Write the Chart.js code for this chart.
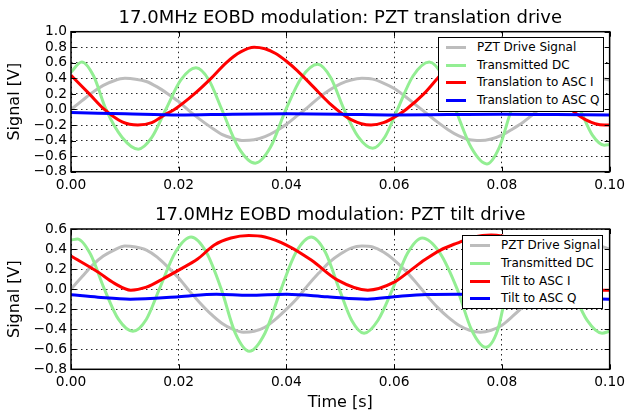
<!DOCTYPE html>
<html lang="en">
<head>
    <meta charset="UTF-8">
    <title>17.0MHz EOBD modulation</title>
    <style>
        body {
            margin: 0;
            padding: 0;
            background: #fff;
        }
        #wrap {
            position: relative;
            width: 630px;
            height: 417px;
        }
        canvas {
            position: absolute;
            left: 0;
        }
        #topChart { top: 0; }
        #bottomChart { top: 200px; }
        .legend {
            position: absolute;
            background: #fff;
            border: 1px solid #000;
            box-sizing: border-box;
            font: 12px "DejaVu Sans", sans-serif;
            color: #000;
        }
        .legend .row {
            position: absolute;
            left: 0;
            height: 17px;
            line-height: 17px;
            white-space: nowrap;
        }
        .legend .swatch {
            position: absolute;
            top: 7px;
            width: 20px;
            height: 3px;
        }
        .legend .text {
            position: absolute;
        }
    </style>
    <script src="https://cdn.jsdelivr.net/npm/chart.js"></script>
</head>
<body>
<div id="wrap">
    <canvas id="topChart" width="630" height="200"></canvas>
    <canvas id="bottomChart" width="630" height="217"></canvas>
    <div id="topLegend" class="legend" style="left:438px; top:37px; width:166px; height:75px;"></div>
    <div id="bottomLegend" class="legend" style="left:462px; top:235px; width:141px; height:74px;"></div>
</div>

<script>
    const topTitle = '17.0MHz EOBD modulation: PZT translation drive';
    const bottomTitle = '17.0MHz EOBD modulation: PZT tilt drive';
    const topLabels = ['PZT Drive Signal', 'Transmitted DC', 'Translation to ASC I', 'Translation to ASC Q'];
    const bottomLabels = ['PZT Drive Signal', 'Transmitted DC', 'Tilt to ASC I', 'Tilt to ASC Q'];
    const seriesColors = ['#bdbdbd', '#93ee93', '#ff0000', '#0000ff'];

    const xTicks = [0, 0.02, 0.04, 0.06, 0.08, 0.10];
    const topYTicks = [-0.8, -0.6, -0.4, -0.2, 0, 0.2, 0.4, 0.6, 0.8, 1.0];
    const bottomYTicks = [-0.8, -0.6, -0.4, -0.2, 0, 0.2, 0.4, 0.6];

    // PZT drive, sampled every 2 ms
    const tDrive = [0, 0.002, 0.004, 0.006, 0.008, 0.010, 0.012, 0.014, 0.016, 0.018,
        0.020, 0.022, 0.024, 0.026, 0.028, 0.030, 0.032, 0.034, 0.036, 0.038,
        0.040, 0.042, 0.044, 0.046, 0.048, 0.050, 0.052, 0.054, 0.056, 0.058,
        0.060, 0.062, 0.064, 0.066, 0.068, 0.070, 0.072, 0.074, 0.076, 0.078,
        0.080, 0.082, 0.084, 0.086, 0.088, 0.090, 0.092, 0.094, 0.096, 0.098, 0.100];
    const driveTop = [0, 0.11, 0.22, 0.31, 0.37, 0.40, 0.39, 0.36, 0.29, 0.20,
        0.10, -0.02, -0.13, -0.23, -0.32, -0.37, -0.40, -0.39, -0.35, -0.28,
        -0.19, -0.08, 0.03, 0.15, 0.25, 0.33, 0.38, 0.40, 0.39, 0.34,
        0.27, 0.17, 0.06, -0.05, -0.16, -0.26, -0.34, -0.39, -0.40, -0.38,
        -0.33, -0.25, -0.16, -0.05, 0.07, 0.18, 0.27, 0.35, 0.39, 0.40, 0.38];
    const driveBottom = [0, 0.12, 0.24, 0.33, 0.39, 0.43, 0.42, 0.39, 0.32, 0.22,
        0.11, -0.02, -0.14, -0.25, -0.34, -0.40, -0.43, -0.42, -0.38, -0.30,
        -0.20, -0.09, 0.04, 0.16, 0.27, 0.35, 0.41, 0.43, 0.42, 0.37,
        0.29, 0.19, 0.07, -0.06, -0.18, -0.28, -0.36, -0.41, -0.43, -0.41,
        -0.36, -0.27, -0.17, -0.05, 0.07, 0.19, 0.29, 0.37, 0.42, 0.43, 0.40];

    // transmitted DC (peaks, troughs, zero crossings)
    const tDcTop = [0, 0.002, 0.0042, 0.0065, 0.0095, 0.0125, 0.015, 0.0176, 0.0204, 0.0232,
        0.0256, 0.028, 0.0311, 0.0342, 0.037, 0.0399, 0.0428, 0.0458, 0.0482, 0.0507,
        0.0533, 0.056, 0.0583, 0.0606, 0.0635, 0.0665, 0.069, 0.0714, 0.0743, 0.0772,
        0.0795, 0.0818, 0.085, 0.0882, 0.0913, 0.0945, 0.0968, 0.099, 0.1];
    const dcTop = [0.48, 0.61, 0.43, 0, -0.36, -0.51, -0.36, 0, 0.38, 0.535,
        0.38, 0, -0.49, -0.69, -0.49, 0, 0.41, 0.58, 0.41, 0,
        -0.35, -0.50, -0.35, 0, 0.43, 0.61, 0.43, 0, -0.49, -0.70,
        -0.49, 0, 0.42, 0.59, 0.42, 0, -0.33, -0.46, -0.45];
    const tDcBottom = [0, 0.0012, 0.0036, 0.0062, 0.0088, 0.0115, 0.014, 0.0164, 0.0194, 0.0223,
        0.0251, 0.0279, 0.0305, 0.0331, 0.036, 0.039, 0.0418, 0.0446, 0.0472, 0.0498,
        0.0521, 0.0544, 0.057, 0.0597, 0.0625, 0.0652, 0.0685, 0.0717, 0.0744, 0.077,
        0.0792, 0.081, 0.084, 0.087, 0.090, 0.093, 0.0958, 0.0986, 0.1];
    const dcBottom = [0.49, 0.50, 0.35, 0, -0.30, -0.42, -0.30, 0, 0.37, 0.52,
        0.37, 0, -0.44, -0.62, -0.44, 0, 0.37, 0.52, 0.37, 0,
        -0.31, -0.44, -0.31, 0, 0.36, 0.51, 0.36, 0, -0.41, -0.58,
        -0.41, 0, 0.36, 0.50, 0.36, 0, -0.31, -0.44, -0.42];

    // ASC I
    const tITop = [0, 0.0034, 0.0062, 0.0095, 0.0124, 0.015, 0.0176, 0.0192, 0.0229, 0.026,
        0.0288, 0.0315, 0.034, 0.036, 0.038, 0.040, 0.042, 0.045, 0.048, 0.052,
        0.0557, 0.058, 0.0605, 0.0622, 0.0655, 0.0683, 0.071, 0.0745, 0.0775, 0.0795,
        0.0815, 0.0835, 0.0855, 0.0885, 0.0915, 0.0955, 0.099, 0.1];
    const iTop = [0.44, 0.20, 0, -0.16, -0.20, -0.17, -0.06, 0, 0.20, 0.40,
        0.60, 0.74, 0.80, 0.78, 0.72, 0.62, 0.50, 0.29, 0.08, -0.13,
        -0.20, -0.17, -0.08, 0, 0.20, 0.42, 0.62, 0.76, 0.80, 0.78,
        0.72, 0.62, 0.50, 0.29, 0.08, -0.13, -0.20, -0.20];
    const tIBottom = [0, 0.005, 0.008, 0.0111, 0.014, 0.0173, 0.020, 0.0235, 0.0266, 0.0297,
        0.033, 0.036, 0.040, 0.0446, 0.0495, 0.0551, 0.060, 0.0631, 0.0656, 0.0686,
        0.0717, 0.0748, 0.078, 0.082, 0.086, 0.090, 0.094, 0.0985, 0.1];
    const iBottom = [0.33, 0.17, 0.06, -0.01, 0.02, 0.11, 0.19, 0.30, 0.44, 0.51,
        0.535, 0.52, 0.44, 0.29, 0.09, -0.01, 0.07, 0.19, 0.29, 0.39,
        0.46, 0.52, 0.54, 0.50, 0.38, 0.22, 0.07, -0.01, -0.01];

    // ASC Q
    const tQTop = [0, 0.01, 0.02, 0.03, 0.04, 0.05, 0.06, 0.07, 0.08, 0.09, 0.1];
    const qTop = [-0.04, -0.055, -0.07, -0.06, -0.055, -0.06, -0.07, -0.065, -0.06, -0.065, -0.07];
    const tQBottom = [0, 0.005, 0.011, 0.02, 0.027, 0.033, 0.04, 0.0476, 0.055, 0.06, 0.066, 0.072, 0.08, 0.09, 0.1];
    const qBottom = [-0.055, -0.08, -0.10, -0.076, -0.05, -0.06, -0.05, -0.076, -0.10, -0.076, -0.053, -0.05, -0.06, -0.085, -0.10];

    Chart.defaults.font.family = '"DejaVu Sans", sans-serif';
    Chart.defaults.color = '#000';

    function points(t, v) {
        return t.map((x, i) => ({ x: x, y: v[i] }));
    }

    function fmt(v, digits) {
        if (Math.abs(v) < 1e-9) v = 0;
        return v.toFixed(digits).replace('-', '\u2212');
    }

    // box round the axes with inward ticks on all four sides
    const frameTicks = {
        id: 'frameTicks',
        afterDatasetsDraw(chart) {
            const { ctx, chartArea: a, scales } = chart;
            ctx.save();
            ctx.strokeStyle = '#000';
            ctx.lineWidth = 1;
            ctx.beginPath();
            scales.x.ticks.forEach(t => {
                const px = Math.round(scales.x.getPixelForValue(t.value)) + 0.5;
                ctx.moveTo(px, a.bottom); ctx.lineTo(px, a.bottom - 5);
                ctx.moveTo(px, a.top); ctx.lineTo(px, a.top + 5);
            });
            scales.y.ticks.forEach(t => {
                const py = Math.round(scales.y.getPixelForValue(t.value)) + 0.5;
                ctx.moveTo(a.left, py); ctx.lineTo(a.left + 5, py);
                ctx.moveTo(a.right, py); ctx.lineTo(a.right - 5, py);
            });
            ctx.stroke();
            ctx.lineWidth = 1.5;
            ctx.strokeRect(a.left, a.top, a.right - a.left, a.bottom - a.top);
            ctx.restore();
        }
    };

    function makeChart(id, title, labels, series, yTicks, xAxisHeight, titlePad, xTitle) {
        const datasets = series.map((s, i) => ({
            label: labels[i],
            data: points(s[0], s[1]),
            borderColor: seriesColors[i],
            borderWidth: 3,
            pointRadius: 0,
            cubicInterpolationMode: 'monotone',
            order: 4 - i
        }));
        return new Chart(document.getElementById(id), {
            type: 'line',
            data: { datasets: datasets },
            options: {
                responsive: false,
                animation: false,
                events: [],
                layout: { padding: { left: 0, right: 20, top: 0, bottom: 0 } },
                plugins: {
                    legend: { display: false },
                    tooltip: { enabled: false },
                    title: {
                        display: true,
                        text: title,
                        fullSize: false,
                        font: { size: 18, weight: 'normal' },
                        padding: titlePad
                    }
                },
                scales: {
                    x: {
                        type: 'linear',
                        min: xTicks[0],
                        max: xTicks[xTicks.length - 1],
                        afterBuildTicks: s => { s.ticks = xTicks.map(v => ({ value: v })); },
                        afterFit: s => { s.height = xAxisHeight; },
                        ticks: {
                            font: { size: 13.8 },
                            padding: 5,
                            maxRotation: 0,
                            autoSkip: false,
                            callback: v => fmt(v, 2)
                        },
                        grid: { color: 'rgba(0,0,0,0.85)', lineWidth: 1, drawTicks: false },
                        border: { display: false, dash: [1.5, 3.5] },
                        title: {
                            display: !!xTitle,
                            text: xTitle || '',
                            font: { size: 16 },
                            padding: { top: 4.4, bottom: 4.4 }
                        }
                    },
                    y: {
                        min: yTicks[0],
                        max: yTicks[yTicks.length - 1],
                        afterBuildTicks: s => { s.ticks = yTicks.map(v => ({ value: v })); },
                        afterFit: s => { s.width = 71; },
                        ticks: {
                            font: { size: 13.8 },
                            padding: 4,
                            autoSkip: false,
                            callback: v => fmt(v, 1)
                        },
                        grid: { color: 'rgba(0,0,0,0.85)', lineWidth: 1, drawTicks: false },
                        border: { display: false, dash: [1.5, 3.5] },
                        title: {
                            display: true,
                            text: 'Signal [V]',
                            font: { size: 16 },
                            padding: { top: 5.4, bottom: 5.4 }
                        }
                    }
                }
            },
            plugins: [frameTicks]
        });
    }

    function makeLegend(id, labels, rowTops, swatchLeft, textLeft) {
        const box = document.getElementById(id);
        labels.forEach((label, i) => {
            const row = document.createElement('div');
            row.className = 'row';
            row.style.top = rowTops[i] + 'px';
            row.innerHTML = '<span class="swatch" style="left:' + swatchLeft + 'px; background:' + seriesColors[i] + '"></span>' +
                '<span class="text" style="left:' + textLeft + 'px">' + label + '</span>';
            box.appendChild(row);
        });
    }

    makeChart('topChart', topTitle, topLabels,
        [[tDrive, driveTop], [tDcTop, dcTop], [tITop, iTop], [tQTop, qTop]],
        topYTicks, 28.3, { top: 7.5, bottom: 2.6 }, null);
    makeChart('bottomChart', bottomTitle, bottomLabels,
        [[tDrive, driveBottom], [tDcBottom, dcBottom], [tIBottom, iBottom], [tQBottom, qBottom]],
        bottomYTicks, 47.7, { top: 4.7, bottom: 2.7 }, 'Time [s]');

    makeLegend('topLegend', topLabels, [1, 18.5, 36, 53.5], 7, 38);
    makeLegend('bottomLegend', bottomLabels, [1, 19, 36.5, 54], 7, 38);
</script>
</body>
</html>
